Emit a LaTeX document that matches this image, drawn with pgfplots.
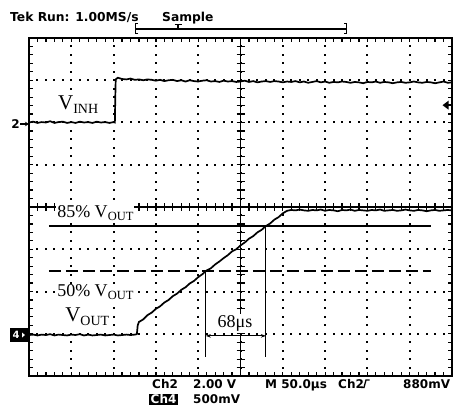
\documentclass[border=0pt]{standalone}
\usepackage{pgfplots}
\pgfplotsset{compat=1.18}
\usepackage{fontspec}
\setmainfont{Liberation Serif}
\newfontfamily\tek{DejaVu Sans}
\usetikzlibrary{arrows.meta}
\newcommand{\lab}[2]{{\fontsize{18}{18}\selectfont #1}\raisebox{-3pt}{\fontsize{12.5}{12.5}\selectfont #2}}
\newcommand{\blab}[2]{{\fontsize{21}{21}\selectfont #1}\raisebox{-4pt}{\fontsize{14}{14}\selectfont #2}}
\begin{document}
\begin{tikzpicture}[x=1pt,y=1pt]
\path[use as bounding box] (0,0) rectangle (454,407);
% ---- graticule (pixel coordinates): frame 29..452 x 31..369 ----
% dotted grid
\foreach \k in {1,...,9} {
  \pgfmathsetmacro\gx{29+\k*42.3}
  \foreach \j in {1,...,39} {
    \pgfmathsetmacro\gy{31+\j*8.45}
    \fill[black] (\gx-1,\gy-1) rectangle ++(2,2);
  }
}
\foreach \k in {1,...,7} {
  \pgfmathsetmacro\gy{31+\k*42.25}
  \foreach \j in {1,...,49} {
    \pgfmathsetmacro\gx{29+\j*8.46}
    \fill[black] (\gx-1,\gy-1) rectangle ++(2,2);
  }
}
% frame ticks and crosshair ticks
\foreach \i in {1,...,49} {
  \pgfmathsetmacro\tx{29+\i*8.46}
  \draw[line width=1.2pt] (\tx,31) -- (\tx,35);
  \draw[line width=1.2pt] (\tx,369) -- (\tx,365);
  \draw[line width=1.2pt] (\tx,196) -- (\tx,204);
}
\foreach \i in {1,...,39} {
  \pgfmathsetmacro\ty{31+\i*8.45}
  \draw[line width=1.2pt] (29,\ty) -- (33,\ty);
  \draw[line width=1.2pt] (452,\ty) -- (448,\ty);
  \draw[line width=1.2pt] (236.5,\ty) -- (244.5,\ty);
}
\draw[line width=1.1pt] (240.5,31) -- (240.5,369);
\draw[line width=1.1pt] (29,200) -- (452,200);
\begin{axis}[at={(29pt,31pt)}, anchor=south west, scale only axis,
  width=423pt, height=338pt,
  xmin=0, xmax=10, ymin=0, ymax=8,
  xtick=\empty, ytick=\empty,
  axis line style={black, line width=1.5pt},
  clip=false]
% V_INH trace
\addplot[black, line width=1.7pt] coordinates {
(0,6.00)(0.1,6.02)(0.2,5.99)(0.3,6.01)(0.4,6.00)(0.5,6.03)(0.6,5.99)(0.7,6.01)(0.8,6.02)(0.9,5.99)
(1.0,6.01)(1.1,5.99)(1.2,6.02)(1.3,6.00)(1.4,6.01)(1.5,5.99)(1.6,6.02)(1.7,6.00)(1.8,6.01)(1.9,5.99)
(2.0,6.01)(2.03,6.00)(2.04,6.60)(2.05,7.02)(2.1,7.06)(2.2,7.03)(2.3,7.02)(2.4,7.04)(2.5,7.01)(2.6,7.02)
(2.7,7.00)(2.8,7.02)(2.9,7.01)(3.0,6.99)(3.1,7.01)(3.2,6.98)(3.3,7.00)(3.4,7.01)(3.5,6.98)(3.6,7.00)
(3.7,6.97)(3.8,7.00)(3.9,6.98)(4.0,6.97)(4.1,6.99)(4.2,7.00)(4.3,6.97)(4.4,6.98)(4.5,6.96)(4.6,6.99)
(4.7,6.97)(4.8,6.98)(4.9,6.96)(5.0,6.97)(5.1,6.99)(5.2,6.96)(5.3,6.98)(5.4,6.95)(5.5,6.97)(5.6,6.98)
(5.7,6.96)(5.8,6.98)(5.9,6.97)(6.0,6.95)(6.1,6.97)(6.2,6.96)(6.3,6.98)(6.4,6.95)(6.5,6.97)(6.6,6.94)
(6.7,6.96)(6.8,6.98)(6.9,6.95)(7.0,6.97)(7.1,6.94)(7.2,6.96)(7.3,6.95)(7.4,6.97)(7.5,6.96)(7.6,6.94)
(7.7,6.96)(7.8,6.95)(7.9,6.93)(8.0,6.96)(8.1,6.95)(8.2,6.97)(8.3,6.94)(8.4,6.96)(8.5,6.95)(8.6,6.93)
(8.7,6.95)(8.8,6.96)(8.9,6.94)(9.0,6.95)(9.1,6.97)(9.2,6.95)(9.3,6.94)(9.4,6.96)(9.5,6.95)(9.6,6.93)
(9.7,6.95)(9.8,6.97)(9.9,6.94)(10,6.95)};
% V_OUT trace
\addplot[black, line width=1.7pt] coordinates {
(0,0.97)(0.1,0.98)(0.2,0.96)(0.3,0.98)(0.4,0.97)(0.5,0.99)(0.6,0.96)(0.7,0.98)(0.8,0.97)(0.9,0.96)
(1.0,0.98)(1.1,0.97)(1.2,0.99)(1.3,0.96)(1.4,0.98)(1.5,0.96)(1.6,0.97)(1.7,0.98)(1.8,0.96)(1.9,0.97)
(2.0,0.98)(2.1,0.96)(2.2,0.97)(2.3,0.98)(2.4,0.97)(2.5,0.98)(2.55,0.99)(2.57,1.20)(2.6,1.28)
(2.7,1.34)(2.8,1.44)(2.9,1.50)(3.0,1.59)(3.1,1.65)(3.2,1.74)(3.3,1.80)(3.4,1.89)(3.5,1.95)(3.6,2.04)
(3.7,2.10)(3.8,2.19)(3.9,2.25)(4.0,2.34)(4.1,2.41)(4.2,2.50)(4.3,2.55)(4.4,2.64)(4.5,2.71)(4.6,2.79)
(4.7,2.86)(4.8,2.95)(4.9,3.00)(5.0,3.09)(5.1,3.16)(5.2,3.25)(5.3,3.31)(5.4,3.40)(5.5,3.46)(5.6,3.55)
(5.7,3.61)(5.8,3.70)(5.9,3.76)(6.0,3.85)(6.1,3.91)(6.2,3.93)(6.3,3.92)(6.4,3.94)(6.5,3.92)(6.6,3.91)
(6.7,3.93)(6.8,3.92)(6.9,3.94)(7.0,3.91)(7.1,3.93)(7.2,3.92)(7.3,3.90)(7.4,3.93)(7.5,3.92)(7.6,3.94)
(7.7,3.91)(7.8,3.93)(7.9,3.92)(8.0,3.91)(8.1,3.93)(8.2,3.92)(8.3,3.94)(8.4,3.91)(8.5,3.92)(8.6,3.93)
(8.7,3.91)(8.8,3.92)(8.9,3.94)(9.0,3.92)(9.1,3.91)(9.2,3.93)(9.3,3.92)(9.4,3.90)(9.5,3.92)(9.6,3.93)
(9.7,3.91)(9.8,3.92)(9.9,3.93)(10,3.92)};
% labels
\node[anchor=base west, fill=white, inner sep=1pt] at (axis cs:0.66,6.30) {\blab{V}{INH}};
\node[anchor=base west, fill=white, inner xsep=1pt, inner ysep=3pt] at (axis cs:0.64,3.76) {\lab{85\% V}{OUT}};
\node[anchor=base west, fill=white, inner sep=1pt] at (axis cs:0.64,1.87) {\lab{50\% V}{OUT}};
\node[anchor=base west, fill=white, inner sep=1pt] at (axis cs:0.83,1.30) {\blab{V}{OUT}};
\node[anchor=base, fill=white, inner sep=1.5pt] at (axis cs:4.87,1.14) {\fontsize{18}{18}\selectfont 68μs};
% threshold lines
\addplot[black, line width=1.4pt] coordinates {(0.47,3.55)(9.5,3.55)};
\addplot[black, line width=1.6pt, dash pattern=on 12pt off 5pt] coordinates {(0.47,2.49)(9.5,2.49)};
\addplot[black, line width=0.9pt] coordinates {(4.18,2.49)(4.18,0.45)};
\addplot[black, line width=0.9pt] coordinates {(5.60,3.55)(5.60,0.45)};
\draw[black, line width=0.9pt, {Stealth[length=5pt,width=3.5pt]}-{Stealth[length=5pt,width=3.5pt]}] (axis cs:4.18,0.95) -- (axis cs:5.60,0.95);
% trigger marker at right
\fill ([xshift=-9.5pt]axis cs:10,6.41) -- ++(6pt,4.5pt) -- ++(0,-9pt) -- cycle;
\draw[line width=2pt] ([xshift=-5pt]axis cs:10,6.41) -- (axis cs:10,6.41);
\end{axis}
% left markers
\node[font=\tek\bfseries\fontsize{12}{12}\selectfont, inner sep=0pt] at (15.5,283) {2};
\draw[line width=1.3pt, -{Stealth[length=4pt,width=4.5pt]}] (20,283) -- (29,283);
\fill[black] (10,65) rectangle (28,79);
\node[font=\tek\bfseries\fontsize{10}{10}\selectfont, text=white, inner sep=0pt] at (16,72) {4};
\fill[white] (22,69.5) -- (25,72) -- (22,74.5) -- cycle;
% header
\node[anchor=base west, inner sep=0pt, font=\tek\bfseries\fontsize{12.3}{12.3}\selectfont] at (10,385) {Tek Run: 1.00MS/s};
\node[anchor=base west, inner sep=0pt, font=\tek\bfseries\fontsize{12.3}{12.3}\selectfont] at (162,385) {Sample};
\draw[line width=1.3pt] (135,378) -- (347,378);
\draw[line width=1.5pt] (138,373.5) -- (135.5,373.5) -- (135.5,383.5) -- (138,383.5);
\draw[line width=1.5pt] (344,373.5) -- (346.5,373.5) -- (346.5,383.5) -- (344,383.5);
\draw[line width=1.5pt] (174.5,382.5) -- (181.5,382.5);
\draw[line width=1.5pt] (178,382.5) -- (178,378);
% bottom readout
\begin{scope}[every node/.style={anchor=base west, inner sep=0pt, font=\tek\bfseries\fontsize{12}{12}\selectfont}]
\node at (152,19) {Ch2};
\node at (193,19) {2.00 V};
\node at (265,19) {M 50.0µs};
\node at (338,19) {Ch2};
\node at (403,19) {880mV};
\fill[black] (149,2) rectangle (177.5,13);
\node[text=white] at (150.5,4) {Ch4};
\node at (193,4) {500mV};
\end{scope}
\draw[line width=1.3pt] (361,19.5) -- (364,19.5) -- (366,27) -- (369.5,27);
\end{tikzpicture}
\end{document}
